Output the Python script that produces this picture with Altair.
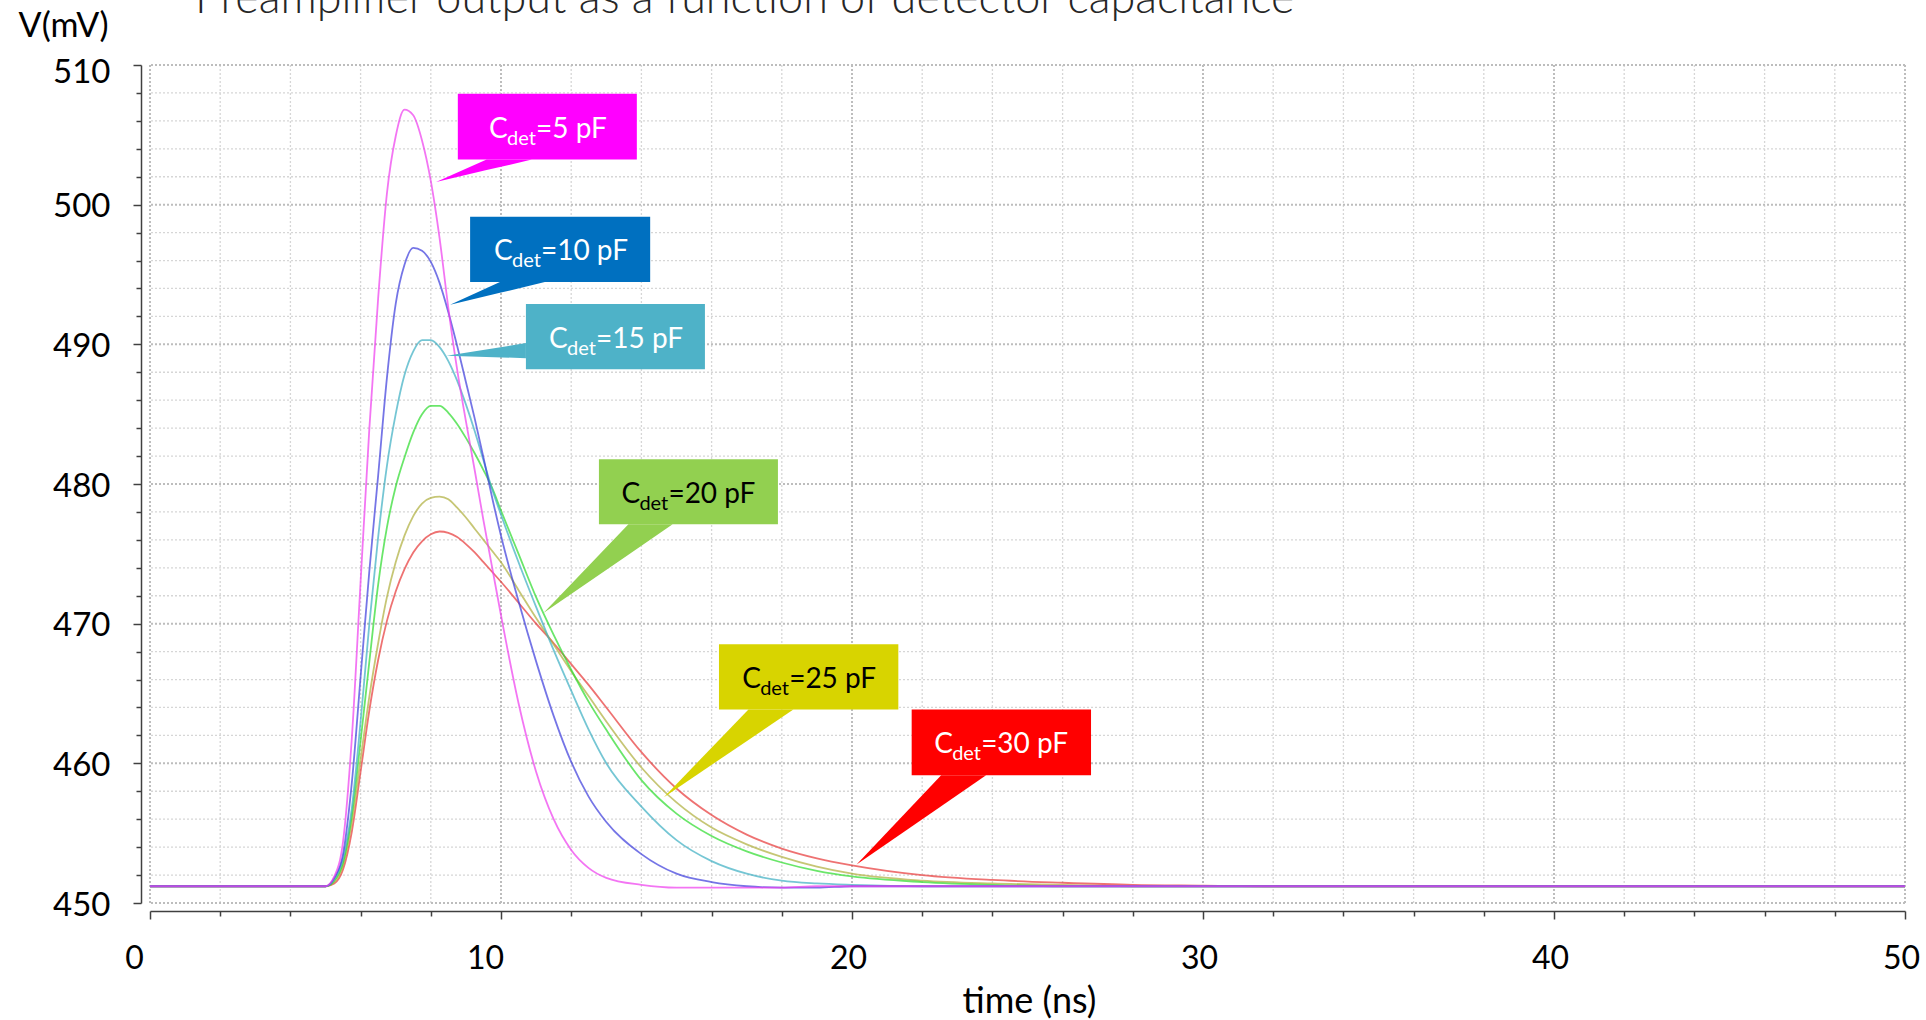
import altair as alt
import pandas as pd

# ---------------- data ----------------
time_ns = [0, 5.0, 5.25, 5.5, 5.75, 6.0, 6.25, 6.5, 6.75, 7.0, 7.25, 7.5, 7.75, 8.0,
           8.25, 8.5, 8.75, 9.0, 9.25, 9.5, 9.75, 10.0, 10.5, 11.0, 11.5, 12.0, 12.5,
           13.0, 14.0, 15.0, 16.0, 17.0, 18.0, 19.0, 20.0, 22.0, 24.0, 26.0, 28.0,
           30.0, 32.0, 50.0]

v_5pF = [451.2, 451.2, 451.9, 454.4, 461.8, 473.0, 484.0, 493.3, 500.8, 504.9, 506.8,
         506.4, 504.6, 501.7, 497.6, 492.6, 488.2, 484.5, 481.0, 477.4, 474.0, 470.6,
         464.3, 459.4, 456.0, 453.8, 452.5, 451.8, 451.3, 451.1, 451.1, 451.1, 451.1,
         451.2, 451.2, 451.2, 451.2, 451.2, 451.2, 451.2, 451.2, 451.2]
v_10pF = [451.2, 451.2, 451.8, 453.5, 458.6, 466.2, 473.8, 480.6, 487.6, 492.9, 495.7,
          496.9, 496.7, 495.9, 494.4, 492.3, 489.9, 487.3, 484.7, 481.9, 479.0, 476.3,
          471.6, 467.3, 463.4, 460.1, 457.6, 455.8, 453.5, 452.1, 451.5, 451.2, 451.1,
          451.1, 451.2, 451.2, 451.2, 451.2, 451.2, 451.2, 451.2, 451.2]
v_15pF = [451.2, 451.2, 451.7, 453.2, 456.8, 463.0, 470.0, 476.2, 481.3, 485.0, 487.8,
          489.5, 490.3, 490.3, 489.8, 488.8, 487.4, 485.7, 483.8, 481.7, 479.6, 477.8,
          474.4, 471.2, 468.1, 465.2, 462.4, 460.0, 456.9, 454.5, 453.0, 452.1, 451.6,
          451.4, 451.3, 451.2, 451.2, 451.2, 451.2, 451.2, 451.2, 451.2]
v_20pF = [451.2, 451.2, 451.6, 452.9, 456.3, 461.6, 467.3, 472.8, 476.9, 479.8, 481.9,
          483.7, 485.0, 485.6, 485.6, 485.1, 484.3, 483.3, 482.2, 481.0, 479.7, 478.1,
          475.0, 471.9, 469.2, 466.7, 464.4, 462.4, 458.8, 456.4, 454.8, 453.7, 452.9,
          452.3, 451.9, 451.5, 451.3, 451.2, 451.2, 451.2, 451.2, 451.2]
v_25pF = [451.2, 451.2, 451.5, 452.7, 455.8, 460.3, 464.8, 468.6, 471.9, 474.4, 476.3,
          477.7, 478.6, 479.0, 479.1, 478.9, 478.3, 477.6, 476.8, 476.0, 475.2, 474.4,
          472.4, 470.4, 468.5, 466.6, 464.8, 463.0, 459.7, 457.2, 455.4, 454.2, 453.3,
          452.6, 452.1, 451.6, 451.4, 451.3, 451.2, 451.2, 451.2, 451.2]
v_30pF = [451.2, 451.2, 451.4, 452.4, 455.1, 459.4, 463.8, 467.4, 470.2, 472.3, 473.9,
          475.1, 475.9, 476.4, 476.6, 476.5, 476.2, 475.7, 475.1, 474.4, 473.7, 473.0,
          471.5, 470.0, 468.6, 467.1, 465.6, 464.0, 460.8, 458.2, 456.3, 454.9, 453.9,
          453.2, 452.7, 452.0, 451.65, 451.45, 451.3, 451.25, 451.2, 451.2]

labels = ["5 pF", "10 pF", "15 pF", "20 pF", "25 pF", "30 pF"]
series_values = [v_5pF, v_10pF, v_15pF, v_20pF, v_25pF, v_30pF]
line_colors = ["#ee40ee", "#4040dd", "#40b0c4", "#30dd30", "#b0b040", "#e83c3c"]
draw_order = ["30 pF", "25 pF", "20 pF", "15 pF", "10 pF", "5 pF"]

# callout annotations (data units: ns, mV)
box_colors = ["#ff00ff", "#0070c0", "#4eb2c8", "#92d050", "#d8d400", "#ff0000"]
text_colors = ["#ffffff", "#ffffff", "#ffffff", "#000000", "#000000", "#ffffff"]
box_t0 = [8.77, 9.12, 10.71, 12.79, 16.21, 21.70]
box_t1 = [13.87, 14.25, 15.81, 17.89, 21.32, 26.81]
box_v0 = [503.23, 494.46, 488.22, 477.11, 463.85, 459.14]
box_v1 = [507.94, 499.14, 492.88, 481.77, 468.53, 463.85]
text_t = [9.66, 9.80, 11.37, 13.43, 16.87, 22.34]
# pointer triangles: base point A, base point B, tip T
ptr_A = [(9.59, 503.23), (9.97, 494.46), (10.71, 490.09), (13.63, 477.11), (17.05, 463.85), (22.54, 459.14)]
ptr_B = [(10.88, 503.23), (11.25, 494.46), (10.71, 489.01), (14.89, 477.11), (18.33, 463.85), (23.82, 459.14)]
ptr_T = [(8.15, 501.63), (8.55, 492.83), (8.45, 489.18), (11.21, 470.77), (14.64, 457.58), (20.13, 452.76)]

x_ticks = list(range(0, 51, 2))
y_ticks = list(range(450, 511, 2))

title_text = "Preamplifier output as a function of detector capacitance"

# ---------------- build chart ----------------
FONT = "Lato"
xs = alt.Scale(domain=[0, 50], nice=False, zero=False)
ys = alt.Scale(domain=[450, 510], nice=False, zero=False)

xa = alt.Axis(
    values=x_ticks,
    labelExpr="datum.value % 10 === 0 ? datum.label : ''",
    tickSize={"condition": {"test": "datum.value % 10 === 0", "value": 8}, "value": 5},
    tickColor="#404040", tickWidth=1.5,
    domainColor="#404040", domainWidth=1.5, offset=8, grid=False,
    labelFont=FONT, labelFontSize=32, labelColor="#000000",
    labelPadding=24,
    labelOffset={"condition": {"test": "datum.value <= 10", "value": -16}, "value": -4},
    labelFlush=False, labelOverlap=False,
    title="time (ns)", titleFont=FONT, titleFontSize=36, titleFontWeight="normal",
    titleColor="#000000", titleX=879, titleY=101, titleAlign="center",
    titleBaseline="alphabetic")
ya = alt.Axis(
    values=y_ticks,
    labelExpr="datum.value % 10 === 0 ? datum.label : ''",
    tickSize={"condition": {"test": "datum.value % 10 === 0", "value": 8}, "value": 5},
    tickColor="#404040", tickWidth=1.5,
    domainColor="#404040", domainWidth=1.5, offset=9, grid=False,
    labelFont=FONT, labelFontSize=33, labelColor="#000000",
    labelPadding=23,
    labelOffset={"condition": {"test": "datum.value === 510", "value": 7}, "value": 2},
    labelFlush=False, labelOverlap=False,
    labelBaseline="middle",
    title="V(mV)", titleFont=FONT, titleFontSize=34, titleFontWeight="normal",
    titleColor="#000000", titleAngle=0, titleX=-33, titleY=-29,
    titleAlign="right", titleBaseline="alphabetic")


def X(field):
    return alt.X(field, scale=xs, axis=xa)


def Y(field):
    return alt.Y(field, scale=ys, axis=ya)


grid_v = pd.DataFrame({"g": x_ticks})
grid_v["major"] = grid_v["g"] % 10 == 0
grid_h = pd.DataFrame({"g": y_ticks})
grid_h["major"] = grid_h["g"] % 10 == 0

layers = [
    alt.Chart(grid_v[~grid_v["major"]]).mark_rule(
        color="#d6d6d6", strokeWidth=1.3, strokeDash=[2, 2]).encode(x=X("g:Q")),
    alt.Chart(grid_v[grid_v["major"]]).mark_rule(
        color="#bdbdbd", strokeWidth=2, strokeDash=[2, 2]).encode(x=X("g:Q")),
    alt.Chart(grid_h[~grid_h["major"]]).mark_rule(
        color="#d6d6d6", strokeWidth=1.3, strokeDash=[2, 2]).encode(y=Y("g:Q")),
    alt.Chart(grid_h[grid_h["major"]]).mark_rule(
        color="#bdbdbd", strokeWidth=2, strokeDash=[2, 2]).encode(y=Y("g:Q")),
]

for name in draw_order:
    i = labels.index(name)
    df = pd.DataFrame({"t": time_ns, "v": series_values[i]})
    layers.append(
        alt.Chart(df).mark_line(color=line_colors[i], strokeWidth=1.8, opacity=0.72,
                                interpolate="monotone").encode(x=X("t:Q"), y=Y("v:Q"))
    )

# boxes
boxes = pd.DataFrame({"label": labels, "t0": box_t0, "t1": box_t1,
                      "v0": box_v0, "v1": box_v1, "fill": box_colors})
layers.append(
    alt.Chart(boxes).mark_rect(opacity=1).encode(
        x=X("t0:Q"), x2="t1:Q", y=Y("v0:Q"), y2="v1:Q",
        color=alt.Color("fill:N", scale=None),
    )
)

# pointer wedges
prow = []
for lab, col, A, B, T in zip(labels, box_colors, ptr_A, ptr_B, ptr_T):
    if B[0] != T[0]:
        vb = T[1] + (B[1] - T[1]) * (A[0] - T[0]) / (B[0] - T[0])
    else:
        vb = B[1]
    prow.append({"label": lab, "fill": col, "t": T[0], "va": T[1], "vb": T[1]})
    prow.append({"label": lab, "fill": col, "t": A[0], "va": A[1], "vb": vb})
    if B[0] != A[0]:
        prow.append({"label": lab, "fill": col, "t": B[0], "va": B[1], "vb": B[1]})
ptrs = pd.DataFrame(prow)
layers.append(
    alt.Chart(ptrs).mark_area(opacity=1, interpolate="linear").encode(
        x=X("t:Q"), y=Y("va:Q"), y2="vb:Q",
        color=alt.Color("fill:N", scale=None),
        detail="label:N",
    )
)

# callout texts: C, subscript det, =N pF
tdf = pd.DataFrame({
    "label": labels,
    "t": text_t,
    "vc": [(a + b) / 2 for a, b in zip(box_v0, box_v1)],
    "tcol": text_colors,
    "rest": ["=" + l for l in labels],
})
for txt_field, size, dx, dy in [("C", 28, 0, 11), ("det", 20, 18, 18), (None, 28, 47, 11)]:
    enc = dict(x=X("t:Q"), y=Y("vc:Q"), color=alt.Color("tcol:N", scale=None))
    if txt_field is None:
        enc["text"] = alt.Text("rest:N")
        mk = alt.Chart(tdf).mark_text(font=FONT, fontSize=size, align="left",
                                      baseline="alphabetic", dx=dx, dy=dy)
    else:
        mk = alt.Chart(tdf).mark_text(font=FONT, fontSize=size, align="left",
                                      baseline="alphabetic", dx=dx, dy=dy,
                                      text=txt_field)
    layers.append(mk.encode(**enc))

# chart title, clipped at the very top as in the reference
layers.append(
    alt.Chart(pd.DataFrame({"title": [title_text]})).mark_text(
        font=FONT, fontSize=45, fontWeight=300, align="left", baseline="alphabetic",
        color="#262626"
    ).encode(text="title:N", x=alt.value(45), y=alt.value(-52))
)

chart = alt.layer(*layers).properties(
    width=1755, height=838,
    padding={"left": 150, "top": 65, "right": 21, "bottom": 117},
    autosize=alt.AutoSizeParams(type="none"),
    background="#ffffff",
).configure_view(strokeWidth=0)

chart.save("out.html", embed_options={"renderer": "svg", "actions": False})
